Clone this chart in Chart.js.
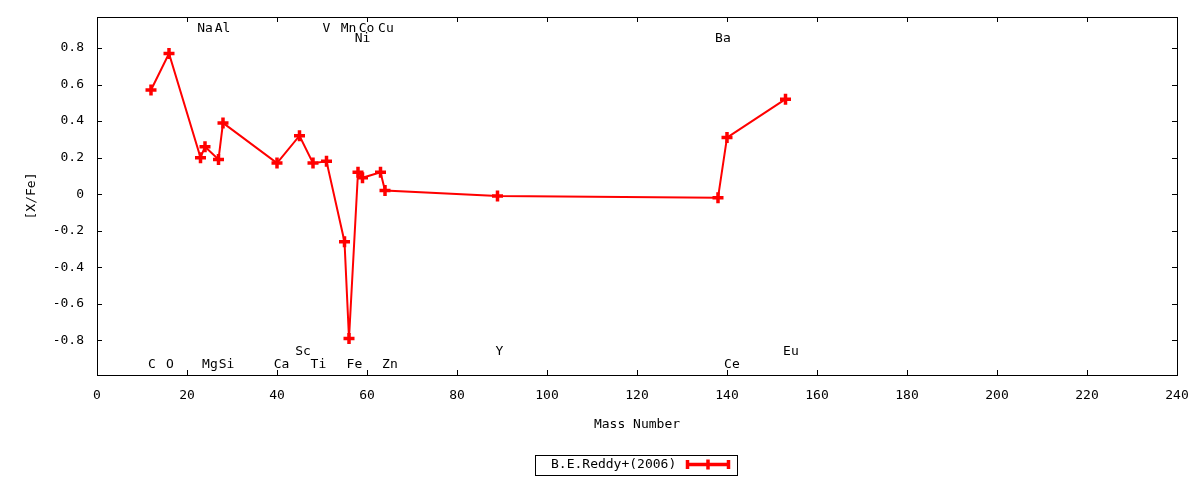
<!DOCTYPE html>
<html lang="en">
<head>
  <meta charset="UTF-8">
  <title>[X/Fe] vs Mass Number</title>
  <script src="https://cdn.jsdelivr.net/npm/chart.js"></script>
  <style>
    body { margin: 0; padding: 0; background: #ffffff; }
    canvas { display: block; }
  </style>
</head>
<body>
  <canvas id="abund" width="1200" height="480"></canvas>
  <script>
    const elements   = ['C', 'O', 'Na', 'Mg', 'Al', 'Si', 'Ca', 'Sc', 'Ti', 'V', 'Mn', 'Fe', 'Ni', 'Co', 'Cu', 'Zn', 'Y', 'Ba', 'Ce', 'Eu'];
    const massNumber = [12, 16, 23, 24, 27, 28, 40, 45, 48, 51, 55, 56, 58, 59, 63, 64, 89, 138, 140, 153];
    const xfe        = [0.57, 0.77, 0.20, 0.26, 0.19, 0.39, 0.17, 0.32, 0.17, 0.18, -0.26, -0.79, 0.12, 0.09, 0.12, 0.02, -0.01, -0.02, 0.31, 0.52];

    // Element name annotations (data coordinates)
    const labelNames = ['Na', 'Al', 'V', 'Mn', 'Co', 'Cu', 'Ni', 'Ba', 'Sc', 'Y', 'Eu', 'C', 'O', 'Mg', 'Si', 'Ca', 'Ti', 'Fe', 'Zn', 'Ce'];
    const labelX     = [24.0, 27.9, 51.0, 55.9, 59.9, 64.2, 59.0, 139.1, 45.8, 89.4, 154.2, 12.2, 16.2, 25.1, 28.8, 41.0, 49.2, 57.2, 65.1, 141.1];
    const labelY     = [0.904, 0.904, 0.904, 0.904, 0.904, 0.904, 0.849, 0.849, -0.86, -0.86, -0.86, -0.935, -0.935, -0.935, -0.935, -0.935, -0.935, -0.935, -0.935, -0.935];

    const xTicks = [0, 20, 40, 60, 80, 100, 120, 140, 160, 180, 200, 220, 240];
    const yTicks = [-0.8, -0.6, -0.4, -0.2, 0, 0.2, 0.4, 0.6, 0.8];

    const seriesName = 'B.E.Reddy+(2006)';
    const FONT = '13px "DejaVu Sans Mono"';

    // Frame, mirrored inward ticks, annotations, axis titles and key
    const gnuplotFrame = {
      id: 'gnuplotFrame',
      afterDraw(chart) {
        const ctx = chart.ctx;
        const a = chart.chartArea;
        const xs = chart.scales.x;
        const ys = chart.scales.y;
        const tl = 5;
        ctx.save();
        ctx.strokeStyle = '#000';
        ctx.lineWidth = 1;
        ctx.strokeRect(Math.round(a.left) + 0.5, Math.round(a.top) + 0.5,
                       Math.round(a.right - a.left), Math.round(a.bottom - a.top));
        ctx.beginPath();
        xTicks.forEach(v => {
          const px = Math.round(xs.getPixelForValue(v)) + 0.5;
          ctx.moveTo(px, a.bottom); ctx.lineTo(px, a.bottom - tl);
          ctx.moveTo(px, a.top); ctx.lineTo(px, a.top + tl);
        });
        yTicks.forEach(v => {
          const py = Math.round(ys.getPixelForValue(v)) + 0.5;
          ctx.moveTo(a.left, py); ctx.lineTo(a.left + tl, py);
          ctx.moveTo(a.right, py); ctx.lineTo(a.right - tl, py);
        });
        ctx.stroke();

        ctx.fillStyle = '#000';
        ctx.font = FONT;
        ctx.textAlign = 'center';
        ctx.textBaseline = 'middle';
        labelNames.forEach((name, i) => {
          ctx.fillText(name, xs.getPixelForValue(labelX[i]), ys.getPixelForValue(labelY[i]));
        });

        // axis titles
        ctx.fillText('Mass Number', (a.left + a.right) / 2, 425);
        ctx.save();
        ctx.translate(32, (a.top + a.bottom) / 2);
        ctx.rotate(-Math.PI / 2);
        ctx.fillText('[X/Fe]', 0, 0);
        ctx.restore();

        // key
        ctx.strokeRect(535.5, 455.5, 202, 20);
        ctx.textAlign = 'left';
        ctx.fillText(seriesName, 551, 465);
        const ds = chart.data.datasets[0];
        ctx.strokeStyle = ds.borderColor;
        ctx.lineWidth = 3.5;
        ctx.beginPath();
        ctx.moveTo(686, 464.5); ctx.lineTo(730, 464.5);
        ctx.moveTo(687.5, 460); ctx.lineTo(687.5, 469);
        ctx.moveTo(728.5, 460); ctx.lineTo(728.5, 469);
        ctx.moveTo(708, 459.5); ctx.lineTo(708, 469.5);
        ctx.stroke();
        ctx.restore();
      }
    };

    new Chart(document.getElementById('abund').getContext('2d'), {
      type: 'line',
      data: {
        datasets: [{
          label: seriesName,
          data: massNumber.map((m, i) => ({ x: m, y: xfe[i] })),
          borderColor: '#ff0000',
          backgroundColor: '#ff0000',
          borderWidth: 2,
          pointStyle: 'cross',
          pointRadius: 5.5,
          pointBorderWidth: 3.5,
          pointBorderColor: '#ff0000',
          tension: 0,
          fill: false
        }]
      },
      options: {
        responsive: false,
        animation: false,
        devicePixelRatio: 1,
        layout: { padding: { top: 17, right: 23, left: 0, bottom: 0 } },
        plugins: {
          legend: { display: false },
          tooltip: { enabled: false }
        },
        scales: {
          x: {
            type: 'linear',
            min: 0,
            max: 240,
            afterBuildTicks: s => { s.ticks = xTicks.map(v => ({ value: v })); },
            afterFit: s => { s.height = 105; s.paddingLeft = 0; s.paddingRight = 0; },
            grid: { display: false, drawTicks: false },
            border: { display: false },
            ticks: {
              color: '#000',
              font: { family: 'DejaVu Sans Mono', size: 13 },
              padding: 13,
              maxRotation: 0,
              callback: v => String(v)
            }
          },
          y: {
            type: 'linear',
            min: -0.99,
            max: 0.97,
            afterBuildTicks: s => { s.ticks = yTicks.map(v => ({ value: v })); },
            afterFit: s => { s.width = 97; s.paddingTop = 0; s.paddingBottom = 0; },
            grid: { display: false, drawTicks: false },
            border: { display: false },
            ticks: {
              color: '#000',
              font: { family: 'DejaVu Sans Mono', size: 13 },
              padding: 13,
              callback: v => (v === 0 ? '0' : v.toFixed(1))
            }
          }
        }
      },
      plugins: [gnuplotFrame]
    });
  </script>
</body>
</html>
